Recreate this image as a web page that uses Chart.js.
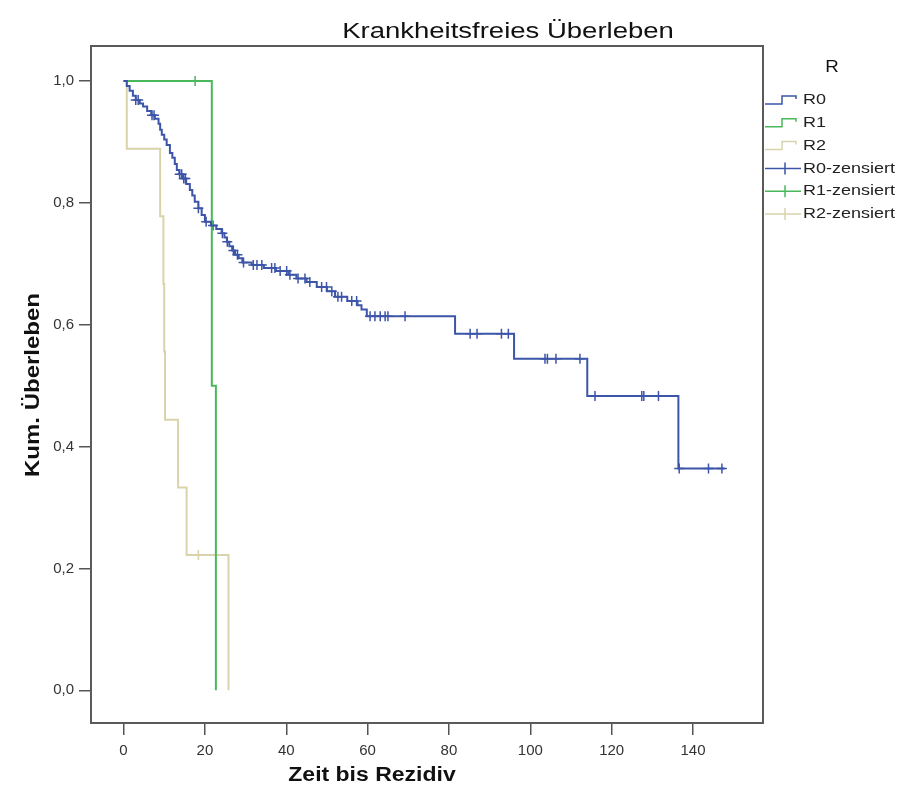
<!DOCTYPE html>
<html>
<head>
<meta charset="utf-8">
<script src="https://cdn.jsdelivr.net/npm/chart.js@4.4.1/dist/chart.umd.min.js"></script>
<style>
html, body { margin: 0; padding: 0; background: #fff; }
#wrap { width: 902px; height: 796px; position: relative; }
</style>
</head>
<body>
<div id="wrap"><canvas id="km"></canvas></div>
<script>
// Daten
const r0Zeit = [0, 0.8, 1.5, 2.3, 3.0, 4.0, 4.8, 5.8, 6.8, 7.7, 8.6, 9.0, 9.4, 10.0, 10.6, 11.4, 12.0, 12.6, 13.1, 13.7, 14.5, 15.4, 16.3, 16.9, 17.5, 18.4, 19.2, 20.0, 21.5, 22.8, 24.1, 24.8, 25.4, 26.0, 26.7, 27.4, 28.3, 29.2, 31.5, 34.5, 37.5, 40.5, 42.5, 45.0, 47.5, 50.0, 52.0, 55.0, 57.5, 58.5, 59.8, 81.5, 96.0, 114.0, 136.4, 147.8];
const r0Surv = [1.0, 0.992, 0.984, 0.976, 0.969, 0.963, 0.958, 0.951, 0.944, 0.938, 0.93, 0.92, 0.912, 0.904, 0.895, 0.882, 0.874, 0.864, 0.854, 0.847, 0.84, 0.831, 0.821, 0.812, 0.802, 0.791, 0.78, 0.769, 0.763, 0.757, 0.75, 0.743, 0.736, 0.729, 0.722, 0.715, 0.709, 0.702, 0.698, 0.693, 0.688, 0.682, 0.676, 0.67, 0.662, 0.655, 0.646, 0.639, 0.632, 0.625, 0.614, 0.585, 0.544, 0.483, 0.364, 0.364];
const r0Zensiert = [3.0, 3.6, 7.0, 7.5, 13.8, 14.3, 14.8, 15.2, 18.4, 20.3, 22.0, 24.3, 25.5, 27.0, 28.0, 29.5, 31.9, 32.8, 34.0, 36.4, 37.2, 38.5, 40.1, 40.9, 42.9, 44.6, 45.8, 48.7, 49.9, 51.2, 52.7, 53.6, 56.1, 57.3, 60.6, 61.8, 63.1, 64.3, 65.0, 69.2, 85.2, 86.9, 92.9, 94.6, 103.6, 104.2, 106.3, 112.2, 115.9, 127.4, 127.9, 131.5, 136.6, 143.8, 147.1];

const r1Zeit = [0, 21.7, 22.7];
const r1Surv = [1.0, 0.5, 0.0];
const r1Zensiert = [17.6];

const r2Zeit = [0, 0.8, 9.0, 9.8, 10.0, 10.2, 13.4, 15.5, 25.8];
const r2Surv = [1.0, 0.889, 0.778, 0.667, 0.556, 0.444, 0.333, 0.222, 0.0];
const r2Zensiert = [18.4];

const xTicks = [0, 20, 40, 60, 80, 100, 120, 140];
const yTicks = [0, 0.2, 0.4, 0.6, 0.8, 1.0];

const farben = { r0: '#3d55a8', r1: '#48b85a', r2: '#d9d3ab' };
const FONT = '"Liberation Sans", Arial, sans-serif';

function stufen(zeit, surv) {
    return zeit.map((t, i) => ({ x: t, y: surv[i] }));
}

// y-Wert eines zensierten Falls = Überleben zum Zeitpunkt t
function zensiert(zeiten, zeit, surv) {
    return zeiten.map(t => {
        let k = 0;
        for (let i = 0; i < zeit.length; i++) {
            if (zeit[i] <= t) k = i;
        }
        return { x: t, y: surv[k] };
    });
}

function linie(label, daten, farbe, breite) {
    return {
        type: 'line', label: label, data: daten, stepped: 'before',
        borderColor: farbe, borderWidth: breite, pointRadius: 0, fill: false
    };
}

function kreuze(label, daten, farbe) {
    return {
        type: 'scatter', label: label, data: daten, pointStyle: 'cross',
        pointRadius: 5, borderColor: farbe, borderWidth: 1.5, backgroundColor: farbe
    };
}

// Rahmen, Titel, Achsentitel und Legende
const extras = {
    id: 'extras',
    afterDatasetsDraw(chart) {
        const ctx = chart.ctx;
        const a = chart.chartArea;
        ctx.save();
        ctx.strokeStyle = '#5a5a5a';
        ctx.lineWidth = 2;
        ctx.strokeRect(a.left, a.top, a.right - a.left, a.bottom - a.top);

        function text(s, x, y, font, sx, rot) {
            ctx.save();
            ctx.translate(x, y);
            if (rot) ctx.rotate(rot);
            ctx.scale(sx, 1);
            ctx.font = font;
            ctx.fillStyle = '#111';
            ctx.textAlign = 'center';
            ctx.textBaseline = 'middle';
            ctx.fillText(s, 0, 0);
            ctx.restore();
        }
        text('Krankheitsfreies Überleben', 508, 32, '22px ' + FONT, 1.25);
        text('Zeit bis Rezidiv', 372, 775, 'bold 20px ' + FONT, 1.15);
        text('Kum. Überleben', 33, 385, 'bold 20px ' + FONT, 1.2, -Math.PI / 2);

        // Legende
        text('R', 832, 67, '17px ' + FONT, 1.1);
        const x0 = 765;
        chart.data.datasets.forEach((ds, i) => {
            const y = 100 + i * 22.8;
            ctx.strokeStyle = ds.borderColor;
            ctx.lineWidth = 1.5;
            ctx.beginPath();
            if (ds.type === 'line') {
                ctx.moveTo(x0, y + 4);
                ctx.lineTo(x0 + 17, y + 4);
                ctx.lineTo(x0 + 17, y - 4);
                ctx.lineTo(x0 + 31, y - 4);
                ctx.lineTo(x0 + 31, y - 1);
            } else {
                ctx.moveTo(x0, y);
                ctx.lineTo(x0 + 36, y);
                ctx.moveTo(x0 + 20, y - 6);
                ctx.lineTo(x0 + 20, y + 6);
            }
            ctx.stroke();
            ctx.save();
            ctx.translate(x0 + 38, y);
            ctx.scale(1.2, 1);
            ctx.font = '15px ' + FONT;
            ctx.fillStyle = '#222';
            ctx.textAlign = 'left';
            ctx.textBaseline = 'middle';
            ctx.fillText(ds.label, 0, 0);
            ctx.restore();
        });
        ctx.restore();
    }
};

new Chart(document.getElementById('km'), {
    data: {
        datasets: [
            linie('R0', stufen(r0Zeit, r0Surv), farben.r0, 2),
            linie('R1', stufen(r1Zeit, r1Surv), farben.r1, 2),
            linie('R2', stufen(r2Zeit, r2Surv), farben.r2, 2),
            kreuze('R0-zensiert', zensiert(r0Zensiert, r0Zeit, r0Surv), farben.r0),
            kreuze('R1-zensiert', zensiert(r1Zensiert, r1Zeit, r1Surv), farben.r1),
            kreuze('R2-zensiert', zensiert(r2Zensiert, r2Zeit, r2Surv), farben.r2)
        ]
    },
    options: {
        responsive: true,
        maintainAspectRatio: false,
        animation: false,
        layout: { padding: { top: 46, right: 139, left: 0, bottom: 0 } },
        plugins: { legend: { display: false }, tooltip: { enabled: false }, title: { display: false } },
        scales: {
            x: {
                type: 'linear', min: -8, max: 157.2,
                afterBuildTicks: s => { s.ticks = xTicks.map(v => ({ value: v })); },
                afterFit: s => { s.height = 73; },
                ticks: { color: '#333', font: { family: FONT, size: 15 }, padding: 7, maxRotation: 0, callback: v => String(v) },
                grid: { drawOnChartArea: false, tickLength: 12, color: '#555', lineWidth: 1.5 },
                border: { display: false }
            },
            y: {
                type: 'linear', min: -0.0537, max: 1.0575,
                afterBuildTicks: s => { s.ticks = yTicks.map(v => ({ value: v })); },
                afterFit: s => { s.width = 91; },
                ticks: { color: '#333', font: { family: FONT, size: 15 }, padding: 5, callback: v => v.toFixed(1).replace('.', ',') },
                grid: { drawOnChartArea: false, tickLength: 12, color: '#555', lineWidth: 1.5 },
                border: { display: false }
            }
        }
    },
    plugins: [extras]
});
</script>
</body>
</html>
